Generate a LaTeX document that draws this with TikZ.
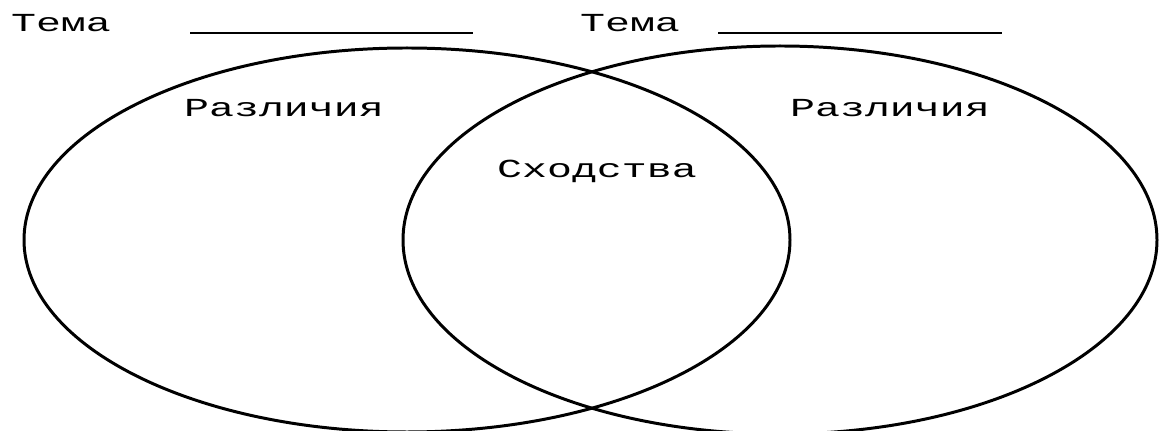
\documentclass[tikz,border=0pt]{standalone}
\usepackage{fontspec}
\newfontfamily\venntext[FakeStretch=1.6]{Liberation Mono}
\usepackage{tikz}
\usetikzlibrary{positioning}

\tikzset{
    label text/.style={font=\venntext\fontsize{14.8}{17}\selectfont, inner sep=0pt, anchor=base},
    set line/.style={line width=1.7pt},
    blank line/.style={line width=0.9pt}
}

\begin{document}
\begin{tikzpicture}[x=0.02cm, y=-0.02cm]
    \useasboundingbox (0,0) rectangle (1159,431);

    % Headings with blank lines to write in
    \node[label text] (temaA) at (61,32) {Тема};
    \draw[blank line] (190,33) -- (473,33);
    \node[label text] (temaB) at (630,32) {Тема};
    \draw[blank line] (718,33) -- (1002,33);

    % The two sets
    \draw[set line] (407,240) ellipse (383 and 192);
    \draw[set line] (780,240) ellipse (377 and 194);

    % Labels inside the sets
    \node[label text] (diffA) at (284,117) {Различия};
    \node[label text] (diffB) at (890,117) {Различия};
    \node[label text] (common) at (597,178) {Сходства};
\end{tikzpicture}
\end{document}
